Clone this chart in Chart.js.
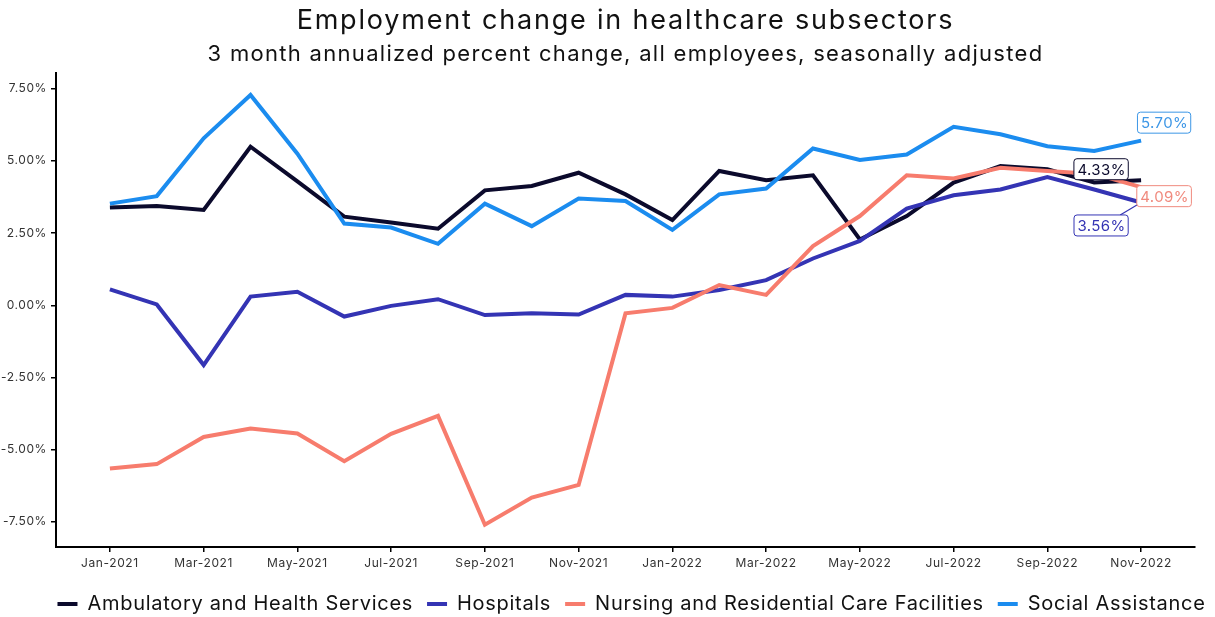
<!DOCTYPE html>
<html>
<head>
<meta charset="utf-8">
<script src="https://cdn.jsdelivr.net/npm/chart.js@4.4.1/dist/chart.umd.min.js"></script>
<style>
  body { margin: 0; background: #fff; }
  #wrap { width: 1215px; height: 617px; }
</style>
</head>
<body>
<div id="wrap"><canvas id="mycanvas"></canvas></div>
<script>
var months = ['Jan-2021','Feb-2021','Mar-2021','Apr-2021','May-2021','Jun-2021','Jul-2021','Aug-2021','Sep-2021','Oct-2021','Nov-2021','Dec-2021',
              'Jan-2022','Feb-2022','Mar-2022','Apr-2022','May-2022','Jun-2022','Jul-2022','Aug-2022','Sep-2022','Oct-2022','Nov-2022'];
var tickMonths = [0, 2, 4, 6, 8, 10, 12, 14, 16, 18, 20, 22];
var yTicks = [-7.5, -5, -2.5, 0, 2.5, 5, 7.5];

var ambulatory = [3.39, 3.44, 3.30, 5.49, 4.29, 3.07, 2.87, 2.65, 3.98, 4.13, 4.59, 3.84,
                  2.95, 4.65, 4.33, 4.50, 2.28, 3.09, 4.25, 4.82, 4.71, 4.25, 4.33];
var hospitals  = [0.55, 0.03, -2.07, 0.30, 0.47, -0.39, -0.02, 0.21, -0.34, -0.28, -0.32, 0.36,
                  0.30, 0.53, 0.87, 1.62, 2.23, 3.35, 3.81, 4.01, 4.44, 4.01, 3.56];
var nursing    = [-5.65, -5.50, -4.56, -4.27, -4.44, -5.40, -4.45, -3.83, -7.60, -6.66, -6.22, -0.28,
                  -0.09, 0.70, 0.36, 2.05, 3.09, 4.50, 4.39, 4.76, 4.65, 4.55, 4.09];
var social     = [3.52, 3.78, 5.78, 7.28, 5.25, 2.83, 2.69, 2.13, 3.52, 2.74, 3.70, 3.61,
                  2.61, 3.84, 4.04, 5.43, 5.03, 5.22, 6.18, 5.92, 5.51, 5.34, 5.70];

var seriesNames = ['Ambulatory and Health Services', 'Hospitals', 'Nursing and Residential Care Facilities', 'Social Assistance'];
var seriesColors = ['#0b0a2c', '#3434b4', '#f77c6d', '#1b8cef'];
var labelTextColors = ['#0b0a2c', '#3434b4', '#f08a7e', '#3c96e6'];
// end-label offset from last point (dx, dy)
var labelOffsets = [[-40, -11], [-40, 23], [23, 9], [23, -18]];

var titleText = 'Employment change in healthcare subsectors';
var subtitleText = '3 month annualized percent change, all employees, seasonally adjusted';

function toPoints(arr) {
    var pts = [];
    for (var i in arr) {
        pts.push({x: Number(i), y: arr[i]});
    }
    return pts;
}

var allSeries = [ambulatory, hospitals, nursing, social];
var datasets = [];
for (var s = 0; s < allSeries.length; s++) {
    datasets.push({
        label: seriesNames[s],
        data: toPoints(allSeries[s]),
        borderColor: seriesColors[s],
        backgroundColor: seriesColors[s],
        borderWidth: 4,
        pointRadius: 0,
        tension: 0,
        order: 4 - s
    });
}

var FONT = 'Inter, "DejaVu Sans", sans-serif';

// the original typeface is a wide grotesk, so widen text with letter spacing
function spaced(obj, method, sp, shift) {
    var orig = obj[method];
    obj[method] = function () {
        var c = this.ctx;
        c.save();
        c.letterSpacing = sp;
        if (shift) c.translate(shift, 0);
        var r = orig.apply(this, arguments);
        c.restore();
        return r;
    };
}

var endLabels = {
    id: 'endLabels',
    beforeLayout: function (chart) {
        chart.boxes.forEach(function (b) {
            if (b._patched) return;
            b._patched = true;
            if (b === chart.legend) {
                var fit = b.fit;
                b.fit = function () {
                    fit.call(this);
                    this.height = 37;
                };
                spaced(b, 'fit', '0.7px');
                spaced(b, 'draw', '0.7px', 34);
            } else if (b.axis) {
                spaced(b, 'draw', '0.6px');
            } else if (b.options && b.options.text === titleText) {
                spaced(b, 'draw', '1.8px');
            } else if (b.options && b.options.text === subtitleText) {
                spaced(b, 'draw', '1.3px');
            }
        });
    },
    afterDatasetsDraw: function (chart) {
        var ctx = chart.ctx;
        ctx.save();
        ctx.font = '15px ' + FONT;
        ctx.letterSpacing = '0.4px';
        ctx.textAlign = 'center';
        ctx.textBaseline = 'middle';
        chart.data.datasets.forEach(function (ds, i) {
            var meta = chart.getDatasetMeta(i);
            var last = meta.data[meta.data.length - 1];
            var val = allSeries[i][allSeries[i].length - 1];
            var txt = val.toFixed(2) + '%';
            var cx = last.x + labelOffsets[i][0];
            var cy = last.y + labelOffsets[i][1];
            var w = ctx.measureText(txt).width + 6;
            var h = 21;
            if (i === 1) {
                ctx.strokeStyle = seriesColors[i];
                ctx.lineWidth = 1.2;
                ctx.beginPath();
                ctx.moveTo(last.x, last.y);
                ctx.lineTo(cx + w / 2 - 8, cy - h / 2);
                ctx.stroke();
            }
            ctx.beginPath();
            ctx.roundRect(cx - w / 2, cy - h / 2, w, h, 3);
            ctx.fillStyle = '#fff';
            ctx.fill();
            ctx.lineWidth = 1;
            ctx.strokeStyle = labelTextColors[i];
            ctx.stroke();
            ctx.fillStyle = labelTextColors[i];
            ctx.fillText(txt, cx + 0.5, cy + 1);
        });
        ctx.restore();
    }
};

var ctx = document.getElementById('mycanvas');
var mycanvas = new Chart(ctx, {
    type: 'line',
    data: { datasets: datasets },
    plugins: [endLabels],
    options: {
        responsive: true,
        maintainAspectRatio: false,
        animation: false,
        layout: { padding: { left: 0, right: 20, top: 0, bottom: 0 } },
        plugins: {
            tooltip: { enabled: false },
            title: {
                display: true,
                fullSize: false,
                text: titleText,
                color: '#111',
                font: { family: FONT, size: 27, weight: 'normal' },
                padding: { top: 5, bottom: 4 }
            },
            subtitle: {
                display: true,
                fullSize: false,
                text: subtitleText,
                color: '#111',
                font: { family: FONT, size: 22, weight: 'normal' },
                padding: { top: 0, bottom: 5 }
            },
            legend: {
                position: 'bottom',
                labels: {
                    color: '#111',
                    font: { family: FONT, size: 20 },
                    boxWidth: 20,
                    boxHeight: 4,
                    padding: 14,
                    sort: function (a, b) { return a.datasetIndex - b.datasetIndex; },
                    generateLabels: function (chart) {
                        return chart.data.datasets.map(function (ds, i) {
                            return {
                                text: ds.label,
                                fillStyle: ds.borderColor,
                                strokeStyle: ds.borderColor,
                                lineWidth: 0,
                                fontColor: '#111',
                                datasetIndex: i,
                                hidden: false
                            };
                        });
                    }
                }
            }
        },
        scales: {
            x: {
                type: 'linear',
                min: -1.15,
                max: 23.15,
                afterBuildTicks: function (scale) {
                    scale.ticks = tickMonths.map(function (v) { return {value: v}; });
                },
                afterFit: function (scale) { scale.height = 33; },
                ticks: {
                    autoSkip: false,
                    maxRotation: 0,
                    padding: 4,
                    color: '#333',
                    font: { family: FONT, size: 12 },
                    callback: function (v) { return months[v]; }
                },
                grid: { display: true, drawOnChartArea: false, drawTicks: true, tickLength: 5, color: '#000', lineWidth: 1.5 },
                border: { display: true, color: '#000', width: 2 }
            },
            y: {
                min: -8.37,
                max: 8.05,
                afterBuildTicks: function (scale) {
                    scale.ticks = yTicks.map(function (v) { return {value: v}; });
                },
                afterFit: function (scale) { scale.width = 56; },
                ticks: {
                    padding: 4,
                    color: '#333',
                    font: { family: FONT, size: 12 },
                    callback: function (v) { return v.toFixed(2) + '%'; }
                },
                grid: { display: true, drawOnChartArea: false, drawTicks: true, tickLength: 5, color: '#000', lineWidth: 1.5 },
                border: { display: true, color: '#000', width: 2 }
            }
        }
    }
});
</script>
</body>
</html>
